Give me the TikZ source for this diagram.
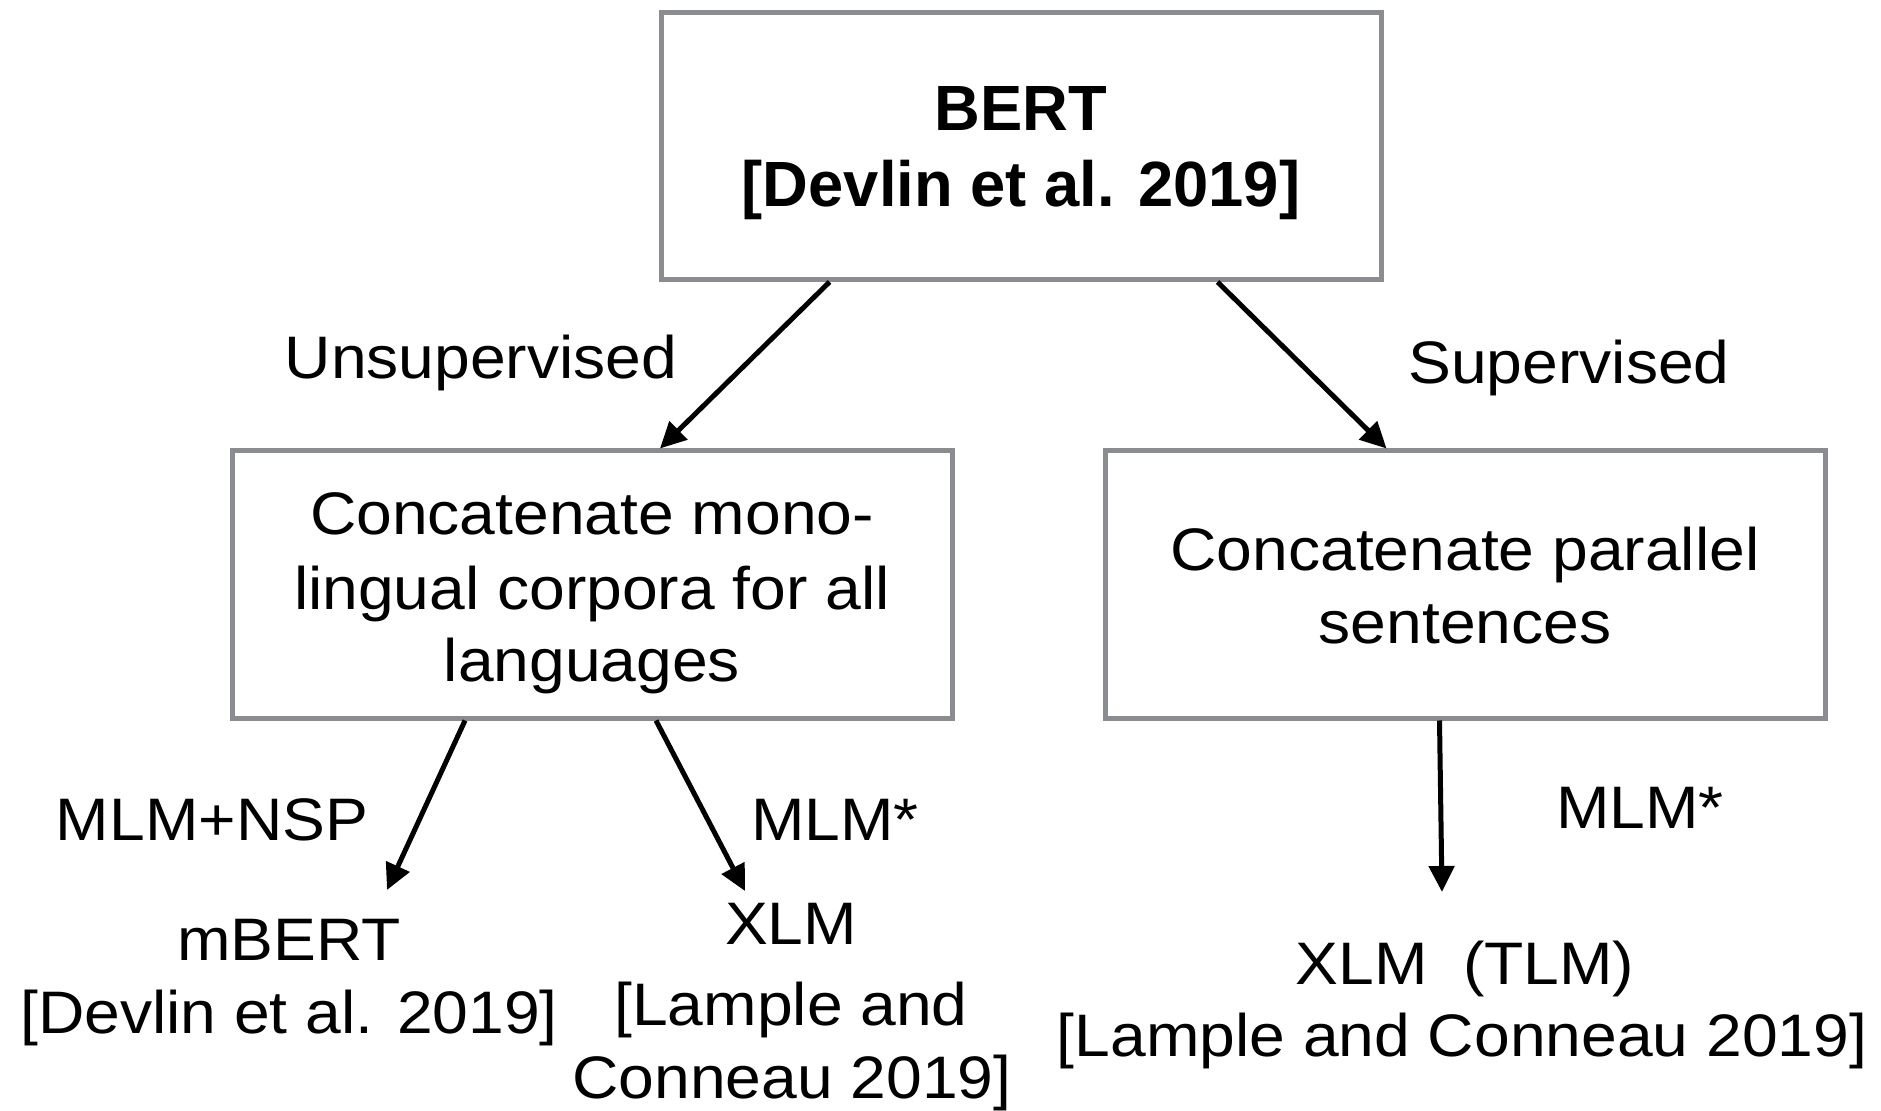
\documentclass[tikz,border=0pt]{standalone}
\usepackage{fontspec}
\setmainfont{Liberation Sans}[FakeStretch=1.07]
\newfontfamily\condsans{Liberation Sans}[FakeStretch=0.99]
\usetikzlibrary{arrows.meta}
\definecolor{boxgray}{HTML}{8A8C8F}
\begin{document}
\begin{tikzpicture}[x=0.1mm,y=-0.1mm,
  every node/.style={font=\fontsize{17.07pt}{20.5pt}\selectfont, inner sep=0pt},
  stepbox/.style={draw=boxgray, line width=0.5mm,
    minimum width=72mm, minimum height=26.7mm},
  lbl/.style={anchor=base},
  title/.style={anchor=base, font=\fontsize{18.2pt}{22pt}\condsans\bfseries},
  arr/.style={-{Triangle[length=2.6mm,width=2.5mm]}, line width=0.5mm}]
\useasboundingbox (0,0) rectangle (1881,1111);

% boxes
\node[stepbox] (bert) at (1021,146) {};
\node[stepbox] (lbox) at (592.5,584.5) {};
\node[stepbox] (rbox) at (1465,584.5) {};

% box texts
\node[title] (bertA) at (1021,131) {BERT};
\node[title] (bertB) at (1021,207) {[Devlin et al. 2019]};
\node[lbl] (lboxA) at (592,535) {Concatenate mono-};
\node[lbl] (lboxB) at (592,609) {lingual corpora for all};
\node[lbl] (lboxC) at (592,681) {languages};
\node[lbl] (rboxA) at (1465,571) {Concatenate parallel};
\node[lbl] (rboxB) at (1465,643) {sentences};

% edge labels
\node[lbl] (unsup) at (481,379) {Unsupervised};
\node[lbl] (sup) at (1569,384) {Supervised};
\node[lbl] (mlmnsp) at (212,840) {MLM+NSP};
\node[lbl] (mlmA) at (835,840) {MLM*};
\node[lbl] (mlmB) at (1640,828) {MLM*};

% resulting models
\node[lbl] (mbert) at (289,960) {mBERT};
\node[lbl] (mbertref) at (289,1033) {[Devlin et al. 2019]};
\node[lbl] (xlm) at (791,944) {XLM};
\node[lbl] (xlmrefA) at (791,1025) {[Lample and};
\node[lbl] (xlmrefB) at (792,1098) {Conneau 2019]};
\node[lbl] (tlm) at (1465,984) {XLM~~(TLM)};
\node[lbl] (tlmref) at (1462,1056) {[Lample and Conneau 2019]};

% arrow tips above the model names
\coordinate (tipM) at (387,890);
\coordinate (tipX) at (745,891);
\coordinate (tipT) at (1442,892);

% connectors
\draw[arr] ([xshift=17.1mm]bert.south west) -- ([xshift=43.0mm]lbox.north west);
\draw[arr] ([xshift=55.9mm]bert.south west) -- ([xshift=28.4mm]rbox.north west);
\draw[arr] ([xshift=23.5mm]lbox.south west) -- (tipM);
\draw[arr] ([xshift=42.6mm]lbox.south west) -- (tipX);
\draw[arr] ([xshift=33.7mm]rbox.south west) -- (tipT);
\end{tikzpicture}
\end{document}
